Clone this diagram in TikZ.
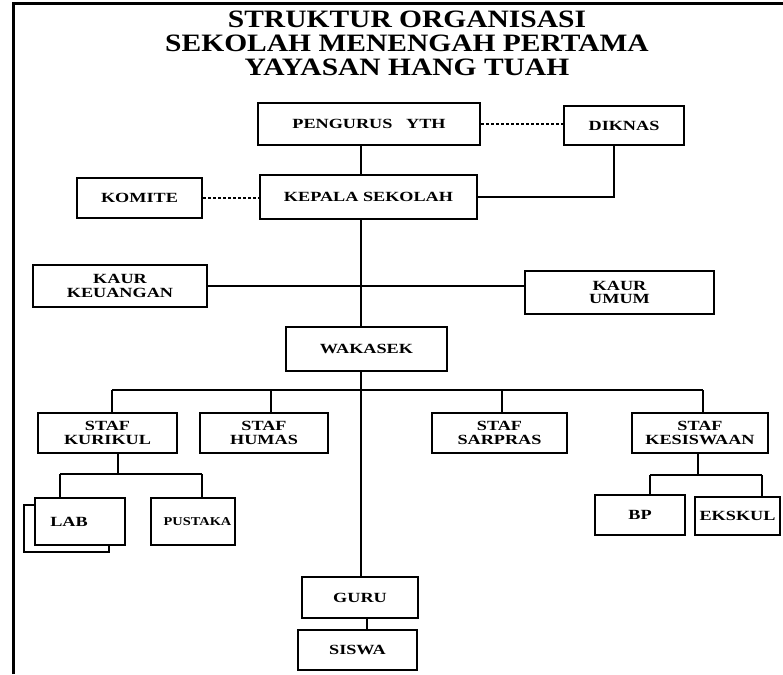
\documentclass[tikz,border=0pt]{standalone}
\usepackage{fontspec}
\setmainfont{Liberation Serif}
\newfontfamily\boxfont[FakeStretch=1.3]{Liberation Serif}
\newfontfamily\pusfont[FakeStretch=1.2]{Liberation Serif}
\newfontfamily\titlefont[FakeStretch=1.18]{Liberation Serif}
\begin{document}
\begin{tikzpicture}[x=1pt,y=-1pt,
  box/.style={draw, line width=2.6pt, inner sep=0pt, align=center, fill=white,
    font=\boxfont\bfseries\fontsize{14}{13.5}\selectfont},
  conn/.style={line width=2.2pt},
  dots/.style={line width=1.6pt, dash pattern=on 3pt off 2pt},
  ttl/.style={anchor=base, inner sep=0pt, font=\titlefont\bfseries\fontsize{25}{25}\selectfont},
  frameline/.style={line width=3pt}]
\useasboundingbox (0,0) rectangle (783,674);
% frame
\coordinate (fb) at (13,674);
\coordinate (fc) at (13,4);
\coordinate (fr) at (783,4);
\draw[frameline] (fb) -- (fc) -- (fr);
% title
\node[ttl] (t1) at (407,28) {STRUKTUR ORGANISASI};
\node[ttl] (t2) at (407,52) {SEKOLAH MENENGAH PERTAMA};
\node[ttl] (t3) at (407,76) {YAYASAN HANG TUAH};
% boxes
\node[box, minimum width=222pt, minimum height=42pt] (peng) at (369,124) {PENGURUS\ \ \ YTH};
\node[box, minimum width=120pt, minimum height=39pt] (dik) at (624,125.5) {DIKNAS};
\node[box, minimum width=125pt, minimum height=40pt] (kom) at (139.5,198) {KOMITE};
\node[box, minimum width=217pt, minimum height=44pt] (kep) at (368.5,197) {KEPALA SEKOLAH};
\node[box, minimum width=174pt, minimum height=42pt] (keu) at (120,286) {KAUR\\KEUANGAN};
\node[box, minimum width=189pt, minimum height=43pt] (umum) at (619.5,292.5) {KAUR\\UMUM};
\node[box, minimum width=161pt, minimum height=44pt] (wak) at (366.5,349) {WAKASEK};
\node[box, minimum width=139pt, minimum height=40pt] (kur) at (107.5,433) {STAF\\KURIKUL};
\node[box, minimum width=128pt, minimum height=40pt] (hum) at (264,433) {STAF\\HUMAS};
\node[box, minimum width=135pt, minimum height=40pt] (sar) at (499.5,433) {STAF\\SARPRAS};
\node[box, minimum width=136pt, minimum height=40pt] (kes) at (700,433) {STAF\\KESISWAAN};
\node[box, minimum width=85pt, minimum height=47pt] (labback) at (66.5,528.5) {};
\node[box, minimum width=90pt, minimum height=47pt] (lab) at (80,521.5) {LAB\hspace{22pt}};
\node[box, minimum width=84pt, minimum height=47pt, font=\pusfont\bfseries\fontsize{12}{12}\selectfont] (pus) at (193,521.5) {\hspace{9pt}PUSTAKA};
\node[box, minimum width=90pt, minimum height=40pt] (bp) at (640,515) {BP};
\node[box, minimum width=85pt, minimum height=38pt] (eks) at (737.5,516) {EKSKUL};
\node[box, minimum width=116pt, minimum height=41pt] (guru) at (360,597.5) {GURU};
\node[box, minimum width=119pt, minimum height=40pt] (siswa) at (357.5,650) {SISWA};
% helper coordinates
\coordinate (tx) at (361,0);
\coordinate (dx) at (614,197);
\coordinate (b1) at (112,390);
\coordinate (b2) at (271,390);
\coordinate (b3) at (502,390);
\coordinate (b4) at (703,390);
\coordinate (k0) at (118,474);
\coordinate (k1) at (60,474);
\coordinate (k2) at (202,474);
\coordinate (s0) at (698,475);
\coordinate (s1) at (650,475);
\coordinate (s2) at (762,475);
\coordinate (gx) at (367,0);
% dotted links
\draw[dots] (peng.east) -- (peng.east -| dik.west);
\draw[dots] (kom.east) -- (kom.east -| kep.west);
% connectors
\draw[conn] (tx |- peng.south) -- (tx |- kep.north);
\draw[conn] (kep.east |- dx) -- (dx) -- (dx |- dik.south);
\draw[conn] (tx |- kep.south) -- (tx |- wak.north);
\draw[conn] (keu.east) -- (keu.east -| umum.west);
\draw[conn] (tx |- wak.south) -- (tx |- guru.north);
\draw[conn] (b1) -- (b4);
\draw[conn] (b1) -- (b1 |- kur.north);
\draw[conn] (b2) -- (b2 |- hum.north);
\draw[conn] (b3) -- (b3 |- sar.north);
\draw[conn] (b4) -- (b4 |- kes.north);
\draw[conn] (k0 |- kur.south) -- (k0);
\draw[conn] (k1) -- (k2);
\draw[conn] (k1) -- (k1 |- lab.north);
\draw[conn] (k2) -- (k2 |- pus.north);
\draw[conn] (s0 |- kes.south) -- (s0);
\draw[conn] (s1) -- (s2);
\draw[conn] (s1) -- (s1 |- bp.north);
\draw[conn] (s2) -- (s2 |- eks.north);
\draw[conn] (gx |- guru.south) -- (gx |- siswa.north);
\end{tikzpicture}
\end{document}
